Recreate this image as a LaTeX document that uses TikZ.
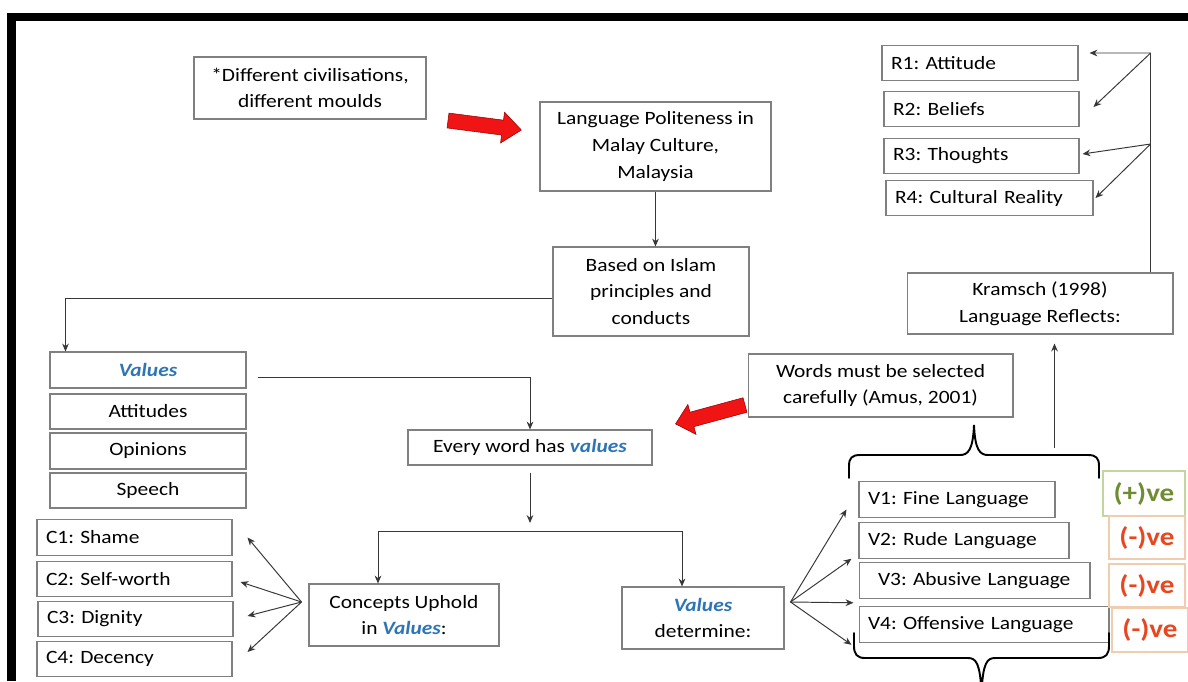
\documentclass[tikz,border=0pt]{standalone}
\usepackage{fontspec}
\setmainfont{Carlito}[FakeStretch=1.14]
\usetikzlibrary{arrows.meta}
\frenchspacing

\definecolor{boxgray}{RGB}{128,128,128}
\definecolor{linegray}{RGB}{55,55,55}
\definecolor{valblue}{RGB}{46,117,182}
\definecolor{posgreen}{RGB}{112,140,50}
\definecolor{posborder}{RGB}{196,214,160}
\definecolor{negred}{RGB}{232,70,30}
\definecolor{negborder}{RGB}{240,205,175}
\definecolor{arrowred}{RGB}{240,20,20}

\newcommand{\vword}[1]{\textcolor{valblue}{\bfseries\itshape #1}}

\begin{document}
\begin{tikzpicture}[x=0.02cm, y=-0.02cm]
            \tikzstyle{box} = [draw=boxgray, line width=0.6pt, inner xsep=0.18cm, inner ysep=0pt, align=center, text=black, font={\fontsize{10.7pt}{15.1pt}\selectfont}]
            \tikzstyle{row} = [box, minimum height=0.71cm, align=left]
            \tikzstyle{badge} = [line width=0.6pt, inner sep=0pt, minimum width=1.52cm, minimum height=0.86cm, font={\fontsize{14.5pt}{16pt}\selectfont\bfseries}]
            \tikzstyle{conn} = [draw=linegray, line width=0.55pt, -{Stealth[length=4.5pt,width=3.8pt]}]
            \tikzstyle{plain line} = [draw=linegray, line width=0.55pt]
            \tikzstyle{red arrow} = [fill=arrowred, draw=red!60!black, line width=0.3pt]
            \tikzstyle{curly} = [draw=black, line width=1.1pt, line cap=round]

            \useasboundingbox[fill=white] (0,0) rectangle (1188,681);
            \clip (0,0) rectangle (1188,681);

            % frame
            \fill[black] (7,13) rectangle (1188,21);
            \fill[black] (7,13) rectangle (15.5,681);

            % top part
            \node[box, minimum width=4.64cm, minimum height=1.24cm] (civ) at (310,88) {*Different civilisations,\\different moulds};
            \node[box, minimum width=4.62cm, minimum height=1.78cm] (lang) at (655.5,146.5) {Language Politeness in\\Malay Culture,\\Malaysia};
            \node[box, minimum width=3.92cm, minimum height=1.78cm] (islam) at (651,291.5) {Based on Islam\\principles and\\conducts};

            \fill[red arrow, shift={(448,120.5)}, rotate=-7.4] (0,-7.5) -- (55,-7.5) -- (55,-15.5) -- (74,0) -- (55,15.5) -- (55,7.5) -- (0,7.5) -- cycle;

            % values list
            \node[box, minimum width=3.92cm, minimum height=0.72cm] (val) at (148,370) {\vword{Values}};
            \node[box, minimum width=3.92cm, minimum height=0.70cm] (att) at (148,411.5) {Attitudes};
            \node[box, minimum width=3.92cm, minimum height=0.72cm] (opi) at (148,451) {Opinions};
            \node[box, minimum width=3.92cm, minimum height=0.70cm] (spe) at (148,490.5) {Speech};

            \node[box, minimum width=4.88cm, minimum height=0.70cm] (every) at (530,447.5) {Every word has \vword{values}};
            \node[box, minimum width=3.80cm, minimum height=1.24cm] (concepts) at (404,615) {Concepts Uphold\\in \vword{Values}:};
            \node[box, minimum width=3.24cm, minimum height=1.24cm] (determine) at (703,618) {\vword{Values}\\determine:};

            % concepts
            \node[row, text width=3.54cm] (c1) at (134.5,537.5) {C1: Shame};
            \node[row, text width=3.54cm] (c2) at (134.5,579) {C2: Self-worth};
            \node[row, text width=3.54cm] (c3) at (135.5,619) {C3: Dignity};
            \node[row, text width=3.54cm] (c4) at (134.5,659) {C4: Decency};

            % language kinds
            \node[row, text width=3.56cm] (v1) at (957,499.5) {V1: Fine Language};
            \node[row, text width=3.84cm] (v2) at (964,540.5) {V2: Rude Language};
            \node[row, text width=4.26cm] (v3) at (974.5,580.5) {\hspace*{0.2cm}V3: Abusive Language};
            \node[row, text width=4.64cm] (v4) at (984,624.5) {V4: Offensive Language};

            \node[badge, draw=posborder, text=posgreen, minimum width=1.64cm, minimum height=0.9cm] (pos) at (1144,493.5) {(+)ve};
            \node[badge, draw=negborder, text=negred] (neg1) at (1147,537.5) {(-)ve};
            \node[badge, draw=negborder, text=negred] (neg2) at (1147,585.5) {(-)ve};
            \node[badge, draw=negborder, text=negred, minimum height=0.88cm] (neg3) at (1150,630) {(-)ve};

            \node[box, minimum width=5.30cm, minimum height=1.26cm] (words) at (880.5,385.5) {Words must be selected\\carefully (Amus, 2001)};
            \fill[red arrow, shift={(745,405)}, rotate=195.2] (0,-7.5) -- (55,-7.5) -- (55,-15.5) -- (72,0) -- (55,15.5) -- (55,7.5) -- (0,7.5) -- cycle;

            % Kramsch side
            \node[box, minimum width=5.32cm, minimum height=1.22cm] (kramsch) at (1040,303.5) {Kramsch (1998)\\Language Reflects:};
            \node[row, text width=3.56cm] (r1) at (980,63) {R1: Attitude};
            \node[row, text width=3.54cm] (r2) at (981.5,109) {R2: Beliefs};
            \node[row, text width=3.54cm] (r3) at (981.5,156) {R3: Thoughts};
            \node[row, text width=3.78cm] (r4) at (989.5,198) {R4: Cultural Reality};

            % connectors
            \draw[conn] (lang.south) -- (lang.south |- islam.north);
            \draw[conn] ([yshift=-0.13cm]islam.west) -| ([xshift=0.32cm]val.north west);
            \draw[conn] ([xshift=0.22cm,yshift=-0.14cm]val.east) -| (every.north);

            \coordinate (splitend) at (530,523);
            \coordinate (split) at (530,531);
            \draw[conn, shorten <=0.14cm] (every.south) -- (splitend);
            \draw[conn] (split) -| ([xshift=-0.52cm]concepts.north);
            \draw[conn] (split) -| ([xshift=-0.42cm]determine.north);

            \coordinate (cfan) at ([xshift=-0.14cm,yshift=0.26cm]concepts.west);
            \draw[conn] (cfan) -- ([xshift=0.3cm]c1.east);
            \draw[conn] (cfan) -- ([xshift=0.16cm,yshift=-0.06cm]c2.east);
            \draw[conn] (cfan) -- ([xshift=0.28cm,yshift=0.06cm]c3.east);
            \draw[conn] (cfan) -- ([xshift=0.3cm,yshift=0.14cm]c4.east);

            \coordinate (dfan) at ([xshift=0.12cm,yshift=0.32cm]determine.east);
            \draw[conn] (dfan) -- ([xshift=-0.24cm,yshift=-0.2cm]v1.west);
            \draw[conn] (dfan) -- ([xshift=-0.14cm]v2.south west);
            \draw[conn] (dfan) -- ([xshift=-0.1cm,yshift=-0.08cm]v3.south west);
            \draw[conn] (dfan) -- ([xshift=-0.14cm,yshift=-0.04cm]v4.south west);

            \coordinate (rtop) at (1150.6,53);
            \coordinate (rmid) at (1150.6,144);
            \draw[plain line] (kramsch.north -| rtop) -- (rtop);
            \draw[conn] (rtop) -- ([xshift=0.22cm,yshift=0.2cm]r1.east);
            \draw[conn] (rtop) -- ([xshift=0.28cm,yshift=0.04cm]r2.east);
            \draw[conn] (rmid) -- ([xshift=0.06cm,yshift=0.04cm]r3.east);
            \draw[conn] (rmid) -- ([xshift=0.04cm]r4.east);

            \coordinate (kup) at (1054.5,448);
            \draw[conn, shorten >=0.18cm] (kup) -- (kup |- kramsch.south);

            % braces
            \draw[curly] (849,478) -- (849,466) .. controls (849,458) and (852,455) .. (860,455) -- (960,455) .. controls (968,455) and (973,450) .. (974,425) .. controls (975,450) and (980,455) .. (988,455) -- (1088,455) .. controls (1096,455) and (1099,458) .. (1099,466) -- (1099,478);
            \draw[curly] (854,633) -- (854,646) .. controls (854,654) and (857,658) .. (865,658) -- (968,658) .. controls (976,658) and (980,663) .. (981.5,692) .. controls (983,663) and (987,658) .. (995,658) -- (1098,658) .. controls (1106,658) and (1109,654) .. (1109,646) -- (1109,633);

        \end{tikzpicture}
\end{document}
